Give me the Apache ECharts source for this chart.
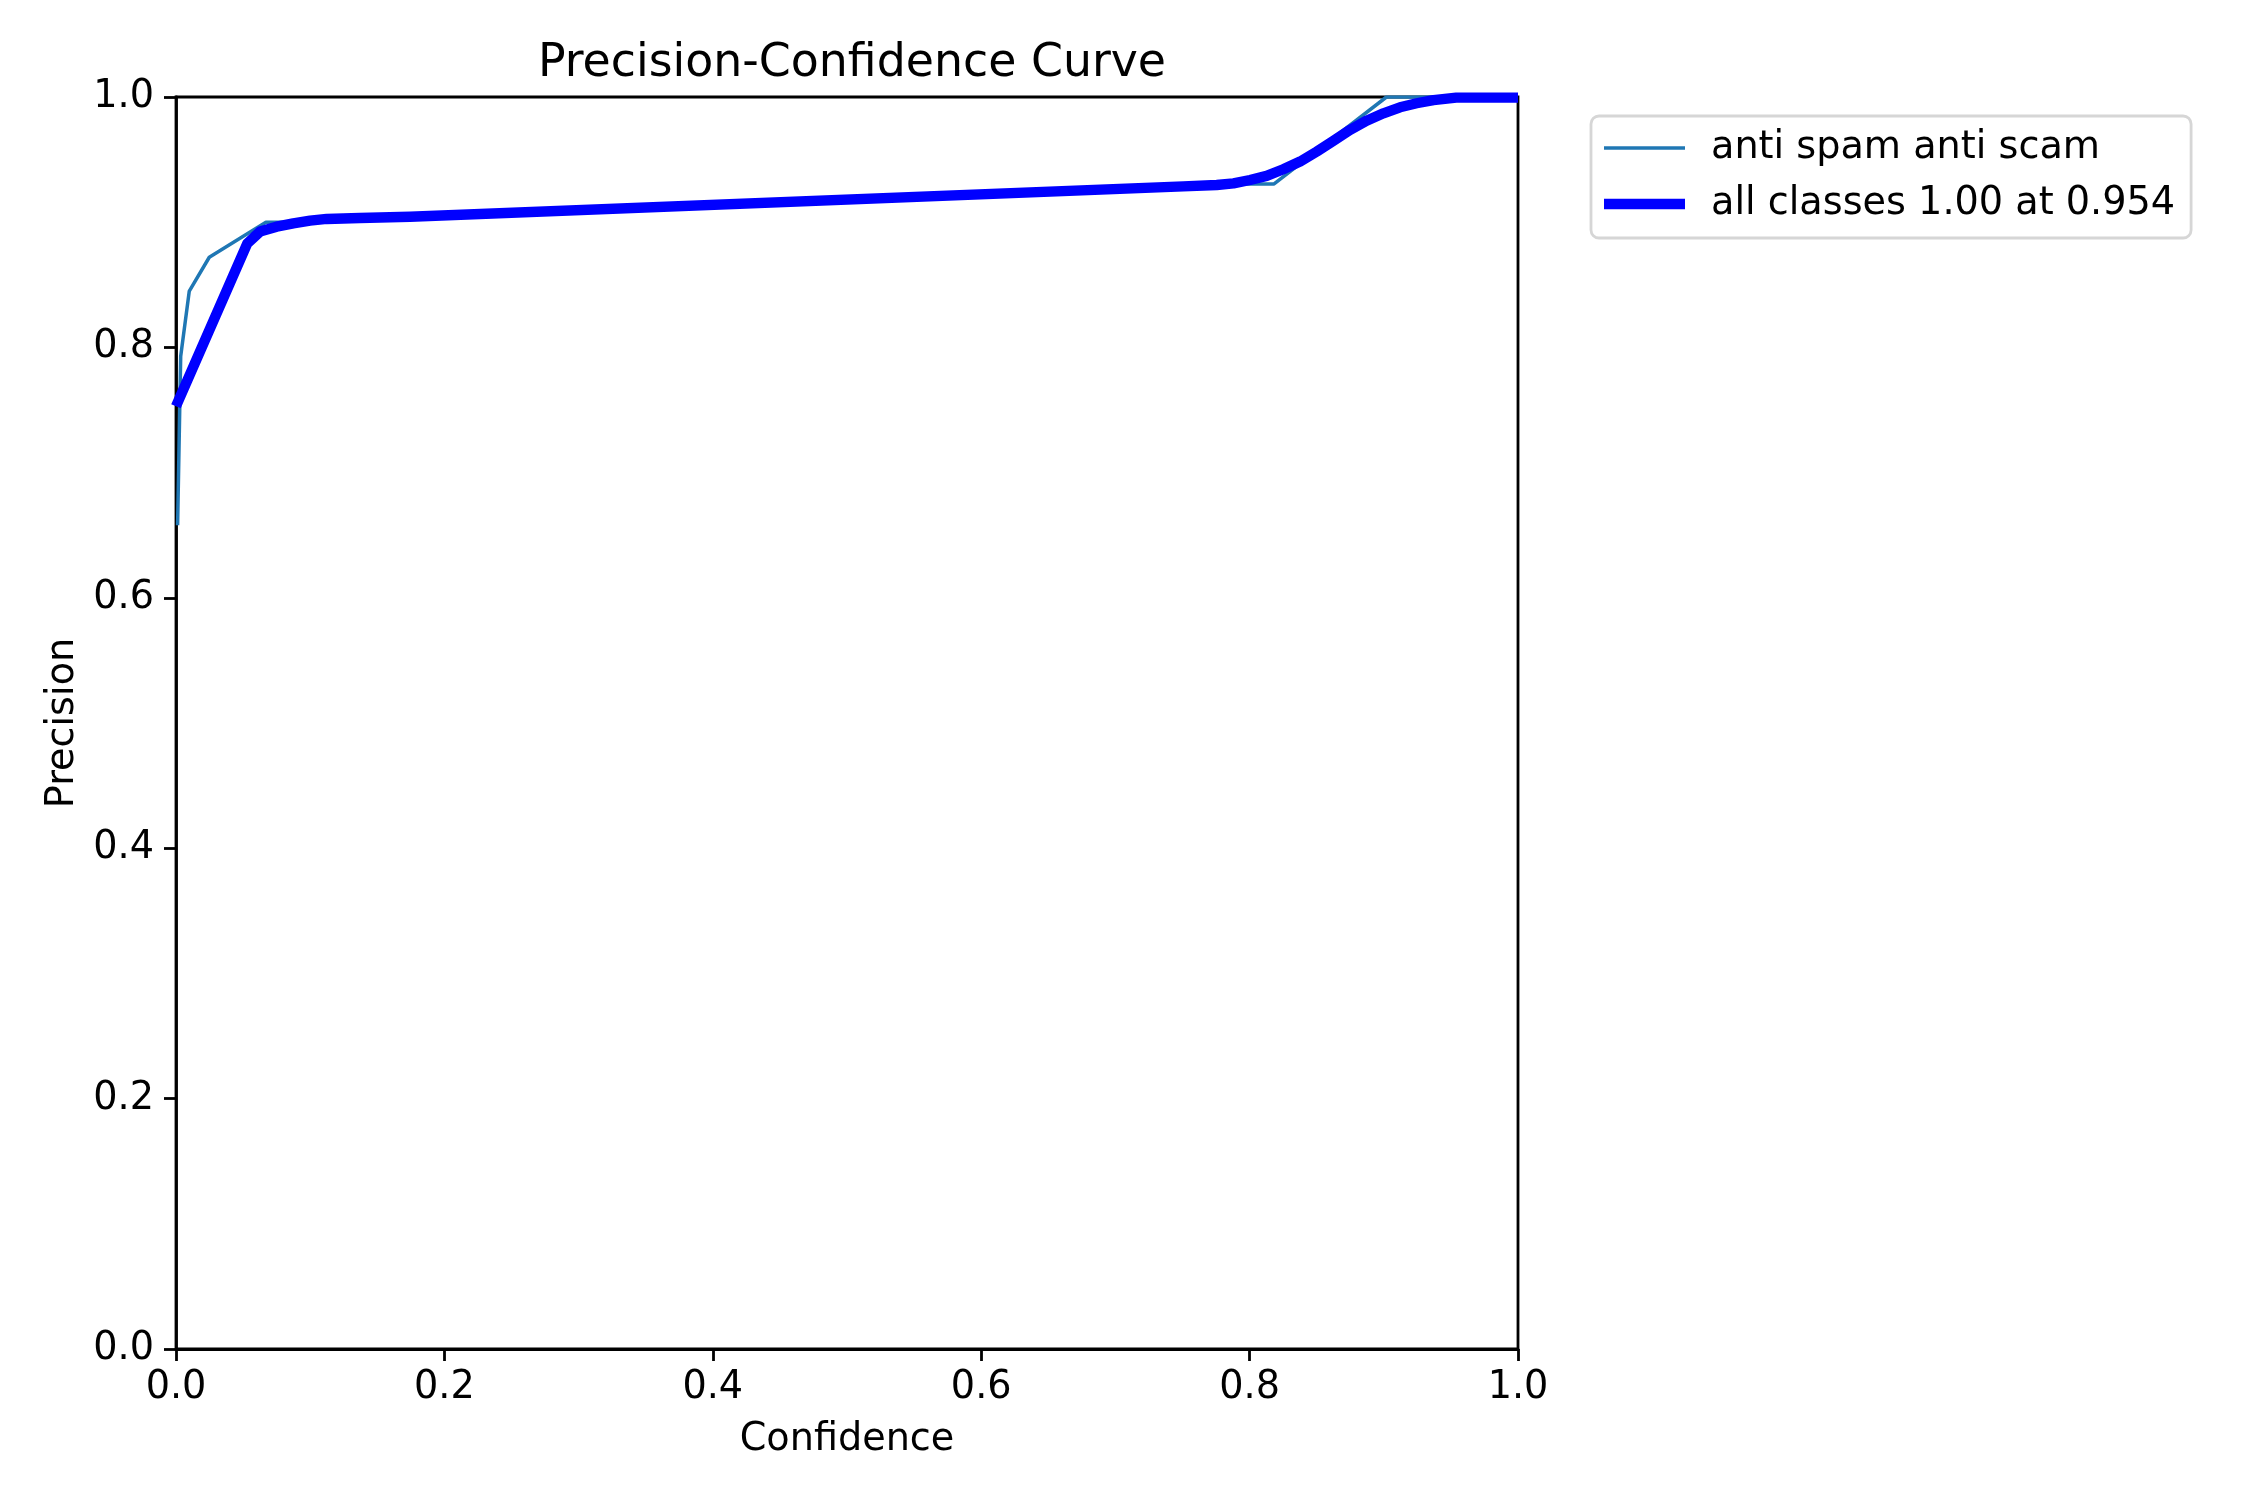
<!DOCTYPE html>
<html>
<head>
<meta charset="utf-8">
<script src="https://cdn.jsdelivr.net/npm/echarts@6/dist/echarts.min.js"></script>
<style>
html,body{margin:0;padding:0;background:#fff;}
#chart{width:2250px;height:1500px;}
</style>
</head>
<body>
<div id="chart"></div>
<script>
// Data
const classConf = [0.0012, 0.0035, 0.0099, 0.0248, 0.067, 0.0825, 0.788, 0.818, 0.902, 1.0];
const classPrec = [0.658, 0.793, 0.845, 0.872, 0.900, 0.900, 0.9305, 0.9305, 1.0, 1.0];

const allConf = [0.0, 0.0531, 0.0626, 0.075, 0.0874, 0.0999, 0.1123, 0.137, 0.1744, 0.7506, 0.7755, 0.788, 0.8003, 0.8127, 0.8251, 0.8376, 0.85, 0.8624, 0.8748, 0.8872, 0.8997, 0.9121, 0.9245, 0.937, 0.954, 1.0];
const allPrec = [0.753, 0.883, 0.8925, 0.8964, 0.8991, 0.9012, 0.9026, 0.9034, 0.9044, 0.9286, 0.9297, 0.931, 0.9337, 0.937, 0.9423, 0.9484, 0.9564, 0.9649, 0.9737, 0.9811, 0.987, 0.9918, 0.995, 0.9975, 0.9995, 0.9995];

const xTicks = [0.0, 0.2, 0.4, 0.6, 0.8, 1.0];
const yTicks = [0.0, 0.2, 0.4, 0.6, 0.8, 1.0];

const classLabel = 'anti spam anti scam';
const allLabel = 'all classes 1.00 at 0.954';

const FONT = 'DejaVu Sans';
const toPairs = (xs, ys) => xs.map((x, i) => [x, ys[i]]);

const chart = echarts.init(document.getElementById('chart'), null, {renderer: 'canvas'});
const axisCommon = {
  type: 'value', min: 0, max: 1, interval: 0.2,
  axisLine: {show: true, lineStyle: {color: '#000', width: 2.8}},
  axisTick: {show: true, inside: false, length: 12, lineStyle: {color: '#000', width: 2.8}},
  splitLine: {show: false},
  axisLabel: {color: '#000', fontFamily: FONT, fontSize: 38.2, formatter: v => v.toFixed(1)},
  nameTextStyle: {color: '#000', fontFamily: FONT, fontSize: 38.2},
  nameLocation: 'middle'
};
chart.setOption({
  animation: false,
  backgroundColor: '#fff',
  title: {
    text: 'Precision-Confidence Curve',
    left: 847, top: 36, textAlign: 'center',
    textStyle: {color: '#000', fontFamily: FONT, fontSize: 45.8, fontWeight: 'normal'}
  },
  grid: {left: 176, top: 97, right: 732, bottom: 151, show: true,
    borderColor: '#000', borderWidth: 2.8, backgroundColor: 'transparent'},
  xAxis: Object.assign({}, axisCommon, {name: 'Confidence', nameGap: 72,
    axisLabel: Object.assign({}, axisCommon.axisLabel, {margin: 20, customValues: xTicks})}),
  yAxis: Object.assign({}, axisCommon, {name: 'Precision', nameGap: 94,
    axisLabel: Object.assign({}, axisCommon.axisLabel, {margin: 22, customValues: yTicks})}),
  legend: {
    orient: 'vertical', left: 1591, top: 116,
    padding: [10, 16, 12, 13],
    itemGap: 12, itemWidth: 81, itemHeight: 14,
    borderColor: '#d6d6d6', borderWidth: 2.8, borderRadius: 8,
    backgroundColor: 'rgba(255,255,255,0.8)',
    textStyle: {color: '#000', fontFamily: FONT, fontSize: 38.2, lineHeight: 44, padding: [0, 0, 0, 21]},
    data: [
      {name: classLabel, icon: 'path://M0,0 L81,0 L81,3.5 L0,3.5 Z', itemStyle: {color: '#1f77b4'}},
      {name: allLabel, icon: 'path://M0,0 L81,0 L81,10.4 L0,10.4 Z', itemStyle: {color: '#0000ff'}}
    ]
  },
  series: [
    {name: classLabel, type: 'line', data: toPairs(classConf, classPrec),
      showSymbol: false, symbol: 'none', smooth: false,
      lineStyle: {color: '#1f77b4', width: 3.5}, itemStyle: {color: '#1f77b4'}, z: 2},
    {name: allLabel, type: 'line', data: toPairs(allConf, allPrec),
      showSymbol: false, symbol: 'none', smooth: false,
      lineStyle: {color: '#0000ff', width: 10.4, join: 'round', cap: 'butt'}, itemStyle: {color: '#0000ff'}, z: 3}
  ]
});
</script>
</body>
</html>
